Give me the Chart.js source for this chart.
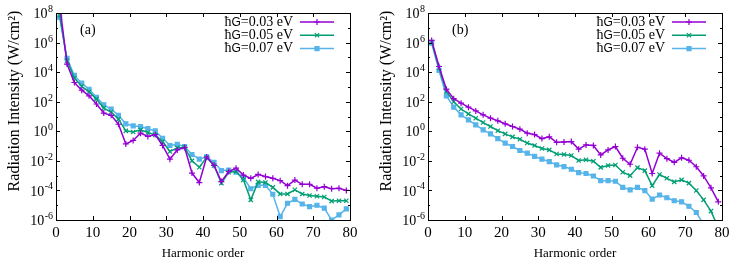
<!DOCTYPE html>
<html>
<head>
<meta charset="utf-8">
<script src="https://cdn.jsdelivr.net/npm/chart.js@4/dist/chart.umd.min.js"></script>
<style>
  body { margin: 0; background: #fff; }
  #wrap { position: relative; width: 747px; height: 262px; }
  canvas { position: absolute; top: 0; }
</style>
</head>
<body>
<div id="wrap">
  <canvas id="chartA" width="373" height="262" style="left:0"></canvas>
  <canvas id="chartB" width="373" height="262" style="left:372px"></canvas>
</div>
<script>
// harmonic orders (odd harmonics)
const harmonics = [1, 3, 5, 7, 9, 11, 13, 15, 17, 19, 21, 23, 25, 27, 29, 31, 33, 35, 37, 39,
  41, 43, 45, 47, 49, 51, 53, 55, 57, 59, 61, 63, 65, 67, 69, 71, 73, 75, 77, 79];

const seriesLabels = ["0.03 eV", "0.05 eV", "0.07 eV"];
const xTicks = [0, 10, 20, 30, 40, 50, 60, 70, 80];
const yExponents = [8, 6, 4, 2, 0, -2, -4, -6];

// panel (a)
const panelA_003 = [4e8, 3.5e4, 2e3, 6e2, 2.5e2, 70, 17, 12, 3, 0.14, 0.24, 0.75, 0.45, 0.6, 0.11, 0.013,
  0.055, 0.08, 1.5e-3, 3.4e-4, 0.018, 5e-3, 4e-4, 1.9e-3, 3.2e-3, 1.1e-3, 6.6e-4, 1.2e-3, 8.7e-4,
  6.6e-4, 4.6e-4, 2.1e-4, 5e-4, 2.6e-4, 2.6e-4, 1.4e-4, 1.8e-4, 1.3e-4, 1.4e-4, 1e-4];
const panelA_005 = [7e7, 6e4, 4e3, 1.1e3, 4.7e2, 150, 37, 20, 6.6, 1.07, 0.9, 1.25, 0.83, 0.57, 0.2, 0.043,
  0.075, 0.083, 0.01, 3.7e-3, 0.017, 4.8e-3, 3.1e-4, 1.7e-3, 1.9e-3, 5.2e-4, 2.3e-5, 3.8e-4, 3.4e-4,
  1.6e-4, 5.8e-5, 5.8e-5, 1.1e-4, 5.8e-5, 4.5e-5, 4e-5, 3.6e-5, 1.9e-5, 2e-5, 2e-5];
const panelA_007 = [5e7, 8.5e4, 6e3, 1.8e3, 7e2, 200, 62, 32, 12, 3.2, 2.3, 2.1, 1.5, 1.07, 0.34, 0.11,
  0.13, 0.093, 0.027, 0.013, 0.019, 8e-3, 2.2e-3, 2.4e-3, 1.7e-3, 7.4e-4, 1.3e-4, 2.2e-4, 2.2e-4,
  5.5e-5, 1.7e-6, 1.35e-5, 2.5e-5, 1.2e-5, 8e-6, 1e-5, 6.3e-6, 1e-6, 2.2e-6, 5.6e-6];

// panel (b)
const panelB_003 = [1.4e6, 2.4e4, 7e2, 160, 80, 43, 24, 13, 7.7, 5.1, 3.2, 2.1, 1.4, 0.74, 0.6, 0.32,
  0.42, 0.18, 0.19, 0.2, 0.062, 0.12, 0.11, 0.025, 0.055, 0.093, 0.015, 5.9e-3, 0.083, 0.062,
  1.4e-3, 0.033, 0.014, 8e-3, 0.016, 0.011, 4e-3, 9.5e-4, 1.5e-4, 1.7e-5];
const panelB_005 = [1.1e6, 1.9e4, 4.9e2, 100, 32, 15, 7.7, 3.9, 2.1, 1.1, 0.67, 0.42, 0.29, 0.16, 0.11,
  0.068, 0.055, 0.029, 0.027, 0.023, 0.0105, 0.012, 0.0095, 3.6e-3, 4.8e-3, 5.3e-3, 1.7e-3, 1e-3,
  3.5e-3, 2.2e-3, 2.1e-4, 1.2e-3, 6.6e-4, 3.8e-4, 5.2e-4, 3.1e-4, 9.8e-5, 2.3e-5, 4e-6, 3e-7];
const panelB_007 = [9e5, 1.3e4, 2.5e2, 43, 13, 5.9, 2.7, 1.26, 0.67, 0.32, 0.16, 0.093, 0.05, 0.033, 0.02,
  0.013, 8.9e-3, 5.3e-3, 4.1e-3, 2.7e-3, 1.6e-3, 1.4e-3, 9.5e-4, 4.6e-4, 4.6e-4, 4.2e-4, 1.6e-4,
  1.1e-4, 1.6e-4, 9.7e-5, 2.6e-5, 4.9e-5, 3.2e-5, 2e-5, 1.7e-5, 8.5e-6, 3.2e-6, 5e-7, 1e-7, 2e-8];

const colors = ["#9400d3", "#009e73", "#56b4e9"];
const pointStyles = ["cross", "crossRot", "rect"];
const SERIF = "'Liberation Serif', 'DejaVu Serif', serif";
const SANS = "'Liberation Sans', 'DejaVu Sans', sans-serif";

function makeDataset(values, idx) {
  return {
    label: seriesLabels[idx],
    data: harmonics.map((h, i) => ({ x: h, y: values[i] })),
    borderColor: colors[idx],
    backgroundColor: colors[idx],
    pointBackgroundColor: colors[idx],
    pointBorderColor: colors[idx],
    pointStyle: pointStyles[idx],
    pointRadius: idx === 2 ? 2.8 : 3,
    pointBorderWidth: 1.2,
    borderWidth: 1.5,
    tension: 0,
  };
}

// gnuplot-like frame, ticks, labels and key
const framePlugin = {
  id: "frame",
  afterDraw(chart, args, opts) {
    const ctx = chart.ctx;
    const a = chart.chartArea;
    const xs = chart.scales.x;
    const ys = chart.scales.y;
    ctx.save();
    ctx.strokeStyle = "#000";
    ctx.lineWidth = 1;
    ctx.strokeRect(Math.round(a.left) + 0.5, Math.round(a.top) + 0.5,
      Math.round(a.right - a.left), Math.round(a.bottom - a.top));

    // x ticks (inward, bottom and top)
    ctx.beginPath();
    xTicks.forEach((v) => {
      const px = Math.round(xs.getPixelForValue(v)) + 0.5;
      ctx.moveTo(px, a.bottom); ctx.lineTo(px, a.bottom - 4);
      ctx.moveTo(px, a.top); ctx.lineTo(px, a.top + 4);
    });
    // y ticks, major every two decades, minor at odd decades
    for (let k = -6; k <= 8; k++) {
      const py = Math.round(ys.getPixelForValue(Math.pow(10, k))) + 0.5;
      const len = k % 2 === 0 ? 4 : 2;
      ctx.moveTo(a.left, py); ctx.lineTo(a.left + len, py);
      ctx.moveTo(a.right, py); ctx.lineTo(a.right - len, py);
    }
    ctx.stroke();

    // y tick labels 10^k
    ctx.fillStyle = "#000";
    yExponents.forEach((k) => {
      const py = ys.getPixelForValue(Math.pow(10, k));
      const xEnd = a.left - 3;
      ctx.font = "10px " + SERIF;
      const exp = String(k);
      const ew = ctx.measureText(exp).width;
      ctx.textAlign = "left";
      ctx.textBaseline = "alphabetic";
      ctx.fillText(exp, xEnd - ew, py - 1);
      ctx.font = "14px " + SERIF;
      ctx.textAlign = "right";
      ctx.textBaseline = "middle";
      ctx.fillText("10", xEnd - ew - 0.5, py + 1.5);
    });

    // y axis title
    ctx.save();
    ctx.translate(15, 101);
    ctx.rotate(-Math.PI / 2);
    ctx.font = "16px " + SERIF;
    ctx.textAlign = "center";
    ctx.textBaseline = "middle";
    ctx.fillText("Radiation Intensity (W/cm\u00b2)", 0, 0);
    ctx.restore();

    // panel label
    ctx.font = "14px " + SERIF;
    ctx.textAlign = "left";
    ctx.textBaseline = "middle";
    ctx.fillText(opts.label, a.left + 24, 30);

    // key
    const rows = [22, 35.3, 48.6];
    chart.data.datasets.forEach((ds, i) => {
      const y = rows[i];
      const tail = "=" + ds.label;
      ctx.font = "14px " + SERIF;
      const wTail = ctx.measureText(tail).width;
      const wH = ctx.measureText("\u0127").width;
      ctx.font = "12px " + SANS;
      const wG = ctx.measureText("G").width;
      let x = a.right - 57 - wTail - wG - wH;
      ctx.textAlign = "left";
      ctx.textBaseline = "middle";
      ctx.font = "14px " + SERIF;
      ctx.fillText("\u0127", x, y);
      x += wH;
      ctx.font = "12px " + SANS;
      ctx.fillText("G", x, y + 0.5);
      x += wG;
      ctx.font = "14px " + SERIF;
      ctx.fillText(tail, x, y);

      ctx.strokeStyle = ds.borderColor;
      ctx.lineWidth = 1.5;
      ctx.beginPath();
      ctx.moveTo(a.right - 50, y);
      ctx.lineTo(a.right - 16, y);
      ctx.stroke();
      ctx.fillStyle = ds.borderColor;
      ctx.lineWidth = 1.2;
      Chart.helpers.drawPoint(ctx, {
        pointStyle: ds.pointStyle, radius: ds.pointRadius, borderWidth: 1.2, rotation: 0,
      }, a.right - 33, y);
      ctx.fillStyle = "#000";
    });
    ctx.restore();
  },
};

function buildConfig(datasets, label) {
  return {
    type: "line",
    data: { datasets: datasets },
    options: {
      responsive: false,
      animation: false,
      layout: { padding: { top: 13, right: 23, left: 0, bottom: 0 } },
      plugins: {
        legend: { display: false },
        tooltip: { enabled: false },
        frame: { label: label },
      },
      scales: {
        x: {
          type: "linear",
          min: 0,
          max: 80,
          grid: { display: false, drawTicks: false },
          border: { display: false },
          ticks: {
            stepSize: 10,
            padding: 4,
            color: "#000",
            font: { family: SERIF, size: 15 },
          },
          title: {
            display: true,
            text: "Harmonic order",
            color: "#000",
            font: { family: SERIF, size: 13 },
            padding: { top: 4, bottom: 1 },
          },
          afterFit: (scale) => { scale.height = 42; },
        },
        y: {
          type: "logarithmic",
          min: 1e-6,
          max: 1e8,
          grid: { display: false, drawTicks: false },
          border: { display: false },
          ticks: { display: false },
          afterFit: (scale) => { scale.width = 56; },
        },
      },
    },
    plugins: [framePlugin],
  };
}

document.addEventListener("DOMContentLoaded", function () {
  new Chart(document.getElementById("chartA").getContext("2d"), buildConfig([
    makeDataset(panelA_003, 0), makeDataset(panelA_005, 1), makeDataset(panelA_007, 2),
  ], "(a)"));
  new Chart(document.getElementById("chartB").getContext("2d"), buildConfig([
    makeDataset(panelB_003, 0), makeDataset(panelB_005, 1), makeDataset(panelB_007, 2),
  ], "(b)"));
});
</script>
</body>
</html>
